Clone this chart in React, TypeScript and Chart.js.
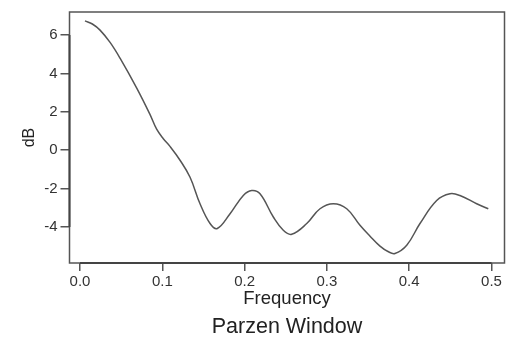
import React, { useEffect, useRef } from "react";
import { Chart, registerables } from "chart.js";

Chart.register(...registerables);

const FREQ = [0.006, 0.015, 0.0243, 0.0365, 0.0486, 0.0689, 0.0851, 0.0931, 0.1012, 0.1093, 0.1215, 0.1337, 0.1458, 0.158, 0.1668, 0.1823, 0.1984, 0.2086, 0.2187, 0.2349, 0.247, 0.2572, 0.2755, 0.2916, 0.3078, 0.3241, 0.3402, 0.3524, 0.3645, 0.3742, 0.3827, 0.397, 0.4131, 0.4334, 0.4496, 0.4617, 0.482, 0.4961];
const DB = [6.74, 6.58, 6.26, 5.62, 4.8, 3.24, 1.86, 1.1, 0.6, 0.2, -0.52, -1.41, -2.79, -3.82, -4.08, -3.31, -2.36, -2.1, -2.27, -3.48, -4.17, -4.38, -3.82, -3.05, -2.79, -3.05, -3.91, -4.48, -5.0, -5.28, -5.38, -4.95, -3.82, -2.62, -2.27, -2.36, -2.79, -3.05];
const X_TICKS = [0, 0.1, 0.2, 0.3, 0.4, 0.5];
const Y_TICKS = [-4, -2, 0, 2, 4, 6];
const X_TITLE = "Frequency";
const Y_TITLE = "dB";
const MAIN_TITLE = "Parzen Window";

const FONT = "'Liberation Sans', Arial, Helvetica, sans-serif";
const INK = "#555";

const boxPlugin = {
  id: "rbox",
  afterDraw(chart: any) {
    const { ctx, chartArea } = chart;
    const { left, top, right, bottom } = chartArea;
    ctx.save();
    ctx.strokeStyle = INK;
    ctx.lineWidth = 1.5;
    ctx.strokeRect(left, top, right - left, bottom - top);
    const ys = chart.scales.y;
    const xs = chart.scales.x;
    ctx.lineWidth = 2;
    ctx.strokeStyle = "#444";
    ctx.beginPath();
    ctx.moveTo(left, ys.getPixelForValue(Y_TICKS[Y_TICKS.length - 1]));
    ctx.lineTo(left, ys.getPixelForValue(Y_TICKS[0]));
    ctx.moveTo(xs.getPixelForValue(X_TICKS[0]), bottom);
    ctx.lineTo(xs.getPixelForValue(X_TICKS[X_TICKS.length - 1]), bottom);
    ctx.stroke();
    ctx.fillStyle = "#222";
    ctx.font = `21.5px ${FONT}`;
    ctx.textAlign = "center";
    ctx.textBaseline = "middle";
    ctx.fillText(MAIN_TITLE, (left + right) / 2, 327.5);
    ctx.restore();
  },
};

export default function App() {
  const ref = useRef<HTMLCanvasElement | null>(null);
  useEffect(() => {
    document.body.style.margin = "0";
    const canvas = ref.current;
    if (!canvas) return;
    const chart = new Chart(canvas, {
      type: "line",
      data: {
        datasets: [
          {
            data: FREQ.map((f, i) => ({ x: f, y: DB[i] })),
            borderColor: INK,
            borderWidth: 1.5,
            pointRadius: 0,
            tension: 0.4,
            fill: false,
          },
        ],
      },
      options: {
        animation: false,
        responsive: false,
        devicePixelRatio: 1,
        layout: { padding: { left: 0, right: 8.5, top: 10, bottom: 0 } },
        plugins: {
          legend: { display: false },
          tooltip: { enabled: false },
          title: { display: false },
        },
        scales: {
          x: {
            type: "linear",
            min: -0.0128,
            max: 0.5158,
            afterBuildTicks: (s: any) => {
              s.ticks = X_TICKS.map((v) => ({ value: v }));
            },
            afterFit: (s: any) => {
              s.height = 75;
            },
            ticks: {
              color: "#333",
              font: { family: FONT, size: 15 },
              padding: 2,
              maxRotation: 0,
              autoSkip: false,
              callback: (v: any) => Number(v).toFixed(1),
            },
            grid: { drawOnChartArea: false, drawTicks: true, tickLength: 8, color: INK, lineWidth: 1.5 },
            border: { display: false },
            title: {
              display: true,
              text: X_TITLE,
              color: "#222",
              font: { family: FONT, size: 18.5, lineHeight: 1 },
              padding: { top: 0, bottom: 29.75 },
            },
          },
          y: {
            type: "linear",
            min: -5.877,
            max: 7.205,
            afterBuildTicks: (s: any) => {
              s.ticks = Y_TICKS.map((v) => ({ value: v }));
            },
            afterFit: (s: any) => {
              s.width = 69.5;
            },
            ticks: {
              color: "#333",
              font: { family: FONT, size: 15 },
              padding: 3,
              autoSkip: false,
              callback: (v: any) => String(v),
            },
            grid: { drawOnChartArea: false, drawTicks: true, tickLength: 9, color: INK, lineWidth: 1.5 },
            border: { display: false },
            title: {
              display: true,
              text: Y_TITLE,
              color: "#222",
              font: { family: FONT, size: 16, lineHeight: 1.2 },
              padding: { top: 20.4, bottom: 0 },
            },
          },
        },
      },
      plugins: [boxPlugin],
    } as any);
    return () => chart.destroy();
  }, []);
  return (
    <div style={{ width: 513, height: 338 }}>
      <canvas ref={ref} width={513} height={338} />
    </div>
  );
}
